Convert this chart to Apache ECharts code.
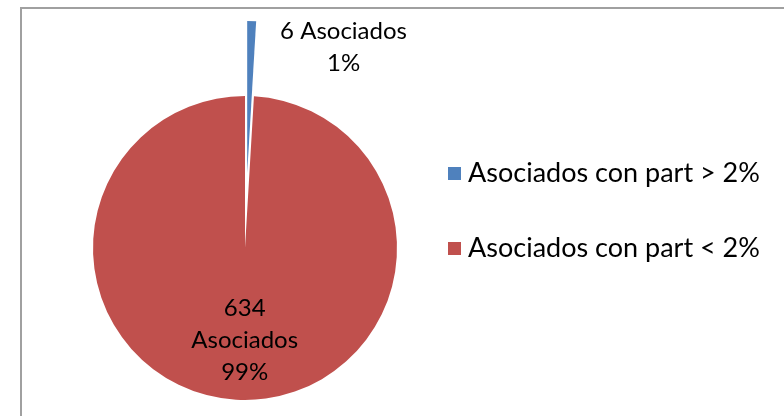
<!DOCTYPE html>
<html>
<head>
<meta charset="utf-8">
<script src="https://cdn.jsdelivr.net/npm/echarts@6/dist/echarts.min.js"></script>
<style>
  html, body { margin: 0; padding: 0; background: #fff; }
  #chart { width: 784px; height: 416px; }
</style>
</head>
<body>
<div id="chart"></div>
<script>
// legend categories and values
var categories = ['Asociados con part > 2%', 'Asociados con part < 2%'];
var counts = [6, 634];
var percents = ['1%', '99%'];
var colors = ['#4F81BD', '#C0504D'];

var chart = echarts.init(document.getElementById('chart'));

// label shifts, so the texts sit where Excel put them
var labelShift = [[94, -47], [2, 13]];

var pieData = categories.map(function (name, i) {
  var text = i === 0
    ? counts[i] + ' Asociados\n' + percents[i]
    : counts[i] + '\nAsociados\n' + percents[i];
  return {
    name: name,
    value: counts[i],
    selected: i === 0,
    itemStyle: { color: colors[i] },
    label: { formatter: text, offset: labelShift[i] },
    select: { label: { formatter: text, offset: labelShift[i] } }
  };
});

var option = {
  backgroundColor: '#fff',
  animation: false,
  graphic: [
    {
      type: 'rect',
      shape: { x: 21, y: 8, width: 820, height: 500 },
      style: { fill: 'none', stroke: '#a0a0a0', lineWidth: 2 },
      silent: true
    }
  ],
  legend: {
    orient: 'vertical',
    left: 443,
    top: 155,
    itemWidth: 13,
    itemHeight: 13,
    itemGap: 48,
    icon: 'rect',
    textStyle: { fontFamily: 'Lato', fontSize: 27, color: '#000', padding: [0, 0, 0, 2] },
    data: categories
  },
  series: [
    {
      type: 'pie',
      center: [245, 248],
      radius: 152,
      startAngle: 90,
      clockwise: true,
      selectedMode: 'single',
      selectedOffset: 75,
      silent: true,
      label: {
        show: true,
        position: 'inside',
        color: '#000',
        fontFamily: 'Lato',
        fontSize: 24,
        lineHeight: 32,
        align: 'center'
      },
      labelLine: { show: false },
      emphasis: { disabled: true },
      data: pieData
    }
  ]
};

chart.setOption(option);
</script>
</body>
</html>
